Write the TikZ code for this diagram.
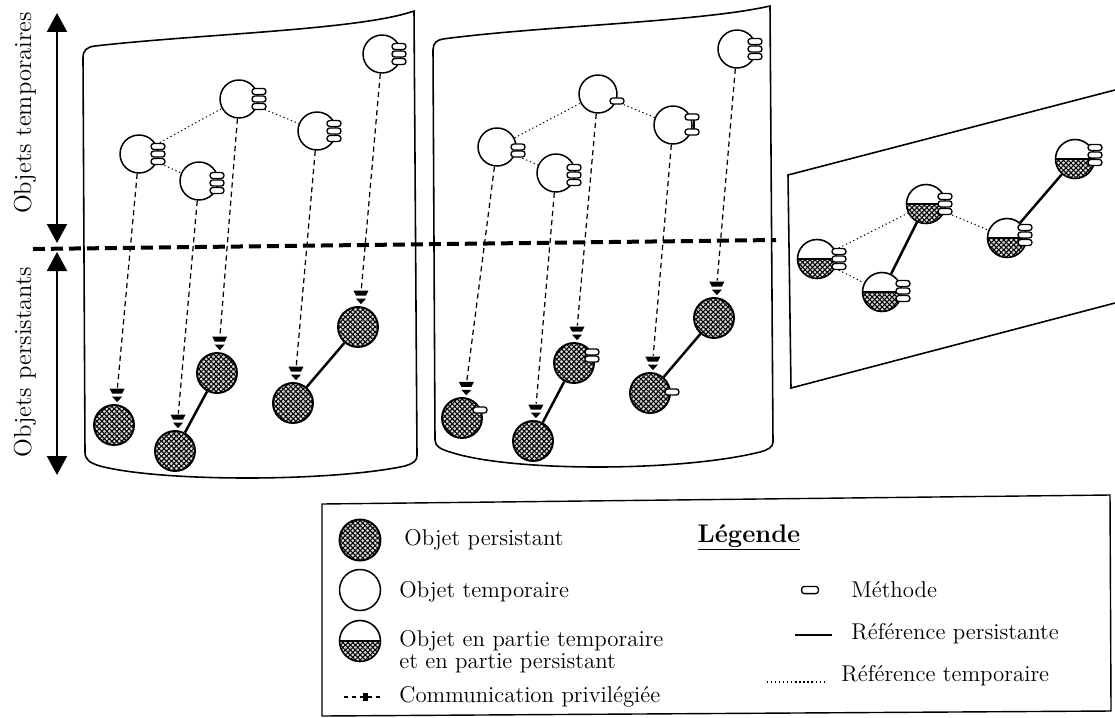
\documentclass[tikz,border=0pt]{standalone}
\usepackage{fontspec}
\usetikzlibrary{arrows.meta,patterns.meta,calc}

\tikzset{
  txt/.style={font=\fontsize{13}{15}\selectfont, inner sep=0pt},
  sidelabel/.style={font=\fontsize{14}{16}\selectfont, rotate=90, inner sep=0pt},
  tobj/.style={circle, draw, line width=0.85pt, minimum size=0.76cm, inner sep=0pt, fill=white},
  pobj/.style={circle, draw, line width=1.1pt, minimum size=0.8cm, inner sep=0pt, fill=white,
    path picture={
      \fill[gray!30] (path picture bounding box.south west) rectangle (path picture bounding box.north east);
      \fill[pattern={Lines[angle=45,distance=2pt,line width=0.6pt]}] (path picture bounding box.south west) rectangle (path picture bounding box.north east);
      \fill[pattern={Lines[angle=-45,distance=2pt,line width=0.6pt]}] (path picture bounding box.south west) rectangle (path picture bounding box.north east);
    }},
  hobj/.style={circle, draw, line width=0.9pt, minimum size=0.78cm, inner sep=0pt, fill=white,
    path picture={
      \fill[gray!30] (path picture bounding box.west) rectangle (path picture bounding box.south east);
      \fill[pattern={Lines[angle=45,distance=2pt,line width=0.6pt]}] (path picture bounding box.west) rectangle (path picture bounding box.south east);
      \fill[pattern={Lines[angle=-45,distance=2pt,line width=0.6pt]}] (path picture bounding box.west) rectangle (path picture bounding box.south east);
      \draw[line width=0.7pt] (path picture bounding box.west) -- (path picture bounding box.east);
    }},
  panel/.style={line width=0.9pt},
  tref/.style={line width=0.6pt, dash pattern=on 0.7pt off 1.6pt},
  pref/.style={line width=1.4pt},
  comm/.style={line width=0.7pt, dash pattern=on 3pt off 2.2pt, shorten >=0.33cm},
  separator/.style={line width=0.08cm, dash pattern=on 0.24cm off 0.12cm},
  vdim/.style={line width=1.2pt, {Triangle[width=0.4cm,length=0.38cm]}-{Triangle[width=0.4cm,length=0.38cm]}},
  capsule/.style={line width=0.75pt, fill=white, rounded corners=1.6pt},
  meth/.pic={\draw[capsule] (-7,-3) rectangle (7,3);},
  methiii/.pic={
    \draw[capsule] (-7,-10.5) rectangle (7,-4.5);
    \draw[capsule] (-7,-3) rectangle (7,3);
    \draw[capsule] (-7,4.5) rectangle (7,10.5);},
  privtip/.pic={
    \fill (-7.5,-2.5) -- (7.5,-2.5) -- (5,2.5) -- (-5,2.5) -- cycle;
    \fill (-5,5.5) -- (5,5.5) -- (0,11) -- cycle;}
}

\begin{document}
\begin{tikzpicture}[x=0.02cm, y=-0.02cm]
\fill[white] (0,0) rectangle (1115,717);
\useasboundingbox (0,0) rectangle (1115,717);

% --- the two memory volumes and the shared plane ---
\draw[panel] (95,46) .. controls (200,34) and (360,30) .. (414,11)
  -- (417,455) .. controls (417,461) and (414,463) .. (405,466)
  .. controls (330,482) and (160,482) .. (100,466)
  .. controls (90,463) and (85,460) .. (85,452)
  -- (83,58) .. controls (83,50) and (87,47) .. (95,46);
\draw[panel] (443,39) .. controls (540,26) and (700,22) .. (770,6)
  -- (773,442) .. controls (773,447) and (768,450) .. (760,452)
  .. controls (680,472) and (510,472) .. (450,452)
  .. controls (440,449) and (435,446) .. (435,440)
  -- (433,50) .. controls (433,43) and (437,40) .. (443,39);
\draw[panel] (1115,90) -- (788,175) -- (791,388) -- (1115,303);

% --- side arrows and labels ---
\coordinate (a1t) at (57,13);
\coordinate (a1b) at (57,243);
\coordinate (a2t) at (57,252);
\coordinate (a2b) at (57,475);
\draw[vdim] (a1t) -- (a1b);
\draw[vdim] (a2t) -- (a2b);
\node[sidelabel] (labT) at (25,113) {Objets temporaires};
\node[sidelabel] (labP) at (25,362) {Objets persistants};

% --- first volume ---
\node[tobj] (T1a) at (139,154) {};
\node[tobj] (T1b) at (199,181) {};
\node[tobj] (T1c) at (239,99) {};
\node[tobj] (T1d) at (317,131) {};
\node[tobj] (T1e) at (382,54) {};
\node[pobj] (P1a) at (114,425) {};
\node[pobj] (P1b) at (175,451) {};
\node[pobj] (P1c) at (217,373) {};
\node[pobj] (P1d) at (293,403) {};
\node[pobj] (P1e) at (358,327) {};

\draw[tref] (T1a) -- (T1c);
\draw[tref] (T1c) -- (T1d);
\draw[tref] (T1a) -- (T1b);
\draw[pref] (P1b) -- (P1c);
\draw[pref] (P1d) -- (P1e);

\foreach \t/\p in {T1a/P1a, T1b/P1b, T1c/P1c, T1d/P1d, T1e/P1e} {
  \draw[comm] (\t) -- (\p);
  \pic at ($(\p)!0.68cm!(\t)$) {privtip};
}

\pic at ($(T1a)+(19,0)$) {methiii};
\pic at ($(T1b)+(18,2)$) {methiii};
\pic at ($(T1c)+(20,0)$) {methiii};
\pic at ($(T1d)+(17,0)$) {methiii};
\pic at ($(T1e)+(17,0)$) {methiii};

% --- second volume ---
\node[tobj] (T2a) at (497,147) {};
\node[tobj] (T2b) at (556,173) {};
\node[tobj] (T2c) at (598,94) {};
\node[tobj] (T2d) at (673,125) {};
\node[tobj] (T2e) at (737,49) {};
\node[pobj] (P2a) at (462,418) {};
\node[pobj] (P2b) at (533,441) {};
\node[pobj] (P2c) at (574,363) {};
\node[pobj] (P2d) at (650,393) {};
\node[pobj] (P2e) at (714,318) {};

\draw[tref] (T2a) -- (T2c);
\draw[tref] (T2c) -- (T2d);
\draw[tref] (T2a) -- (T2b);
\draw[pref] (P2b) -- (P2c);
\draw[pref] (P2d) -- (P2e);

\foreach \t/\p in {T2a/P2a, T2b/P2b, T2c/P2c, T2d/P2d, T2e/P2e} {
  \draw[comm] (\t) -- (\p);
  \pic at ($(\p)!0.68cm!(\t)$) {privtip};
}

\pic at ($(T2a)+(21,0)$) {meth};
\pic at ($(T2a)+(21,7)$) {meth};
\pic at ($(T2b)+(18,2)$) {methiii};
\pic at ($(T2c)+(19,7)$) {meth};
\draw[line width=0.6pt] ($(T2d)+(21,-8)$) -- ($(T2d)+(21,7)$);
\pic at ($(T2d)+(19,-8)$) {meth};
\pic at ($(T2d)+(19,7)$) {meth};
\pic at ($(T2e)+(18,0)$) {methiii};
\pic at ($(P2a)+(18,-8)$) {meth};
\pic at ($(P2c)+(18,-11)$) {meth};
\pic at ($(P2c)+(18,-4)$) {meth};
\pic at ($(P2d)+(22,-1)$) {meth};

% --- shared plane ---
\node[hobj] (H1) at (817,259) {};
\node[hobj] (H2) at (882,292) {};
\node[hobj] (H3) at (926,204) {};
\node[hobj] (H4) at (1007,238) {};
\node[hobj] (H5) at (1075,159) {};
\draw[tref] (H1) -- (H3);
\draw[tref] (H1) -- (H2);
\draw[tref] (H3) -- (H4);
\draw[pref] (H2) -- (H3);
\draw[pref] (H4) -- (H5);
\pic at ($(H1)+(22,0)$) {methiii};
\pic at ($(H2)+(21,-1)$) {methiii};
\pic at ($(H3)+(19,0)$) {methiii};
\pic at ($(H4)+(18,-3)$) {methiii};
\pic at ($(H5)+(20,-4)$) {methiii};

% --- boundary between temporary and persistent space ---
\draw[separator] (33,249) -- (776,240);

% --- legend ---
\draw[line width=0.8pt] (322,504) -- (1110,495) -- (1111,711) -- (322,716) -- cycle;
\node[pobj, minimum size=0.82cm] (Lp) at (360,540) {};
\node[tobj, minimum size=0.82cm] (Lt) at (360,590) {};
\node[hobj, minimum size=0.82cm] (Lh) at (360,641) {};
\node[txt, anchor=base west] (Lpt) at (404,545) {Objet persistant};
\node[txt, anchor=base west] (Ltt) at (399,597) {Objet temporaire};
\node[txt, anchor=base west] (Lht) at (399,646) {Objet en partie temporaire};
\node[txt, anchor=base west] (Lht2) at (399,668) {et en partie persistant};
\node[txt, anchor=base west] (Lct) at (399,702) {Communication privilégiée};
\coordinate (Lc1) at (344,697);
\coordinate (Lc2) at (381,697);
\draw[line width=0.7pt, dash pattern=on 2.5pt off 2pt] (Lc1) -- (Lc2);
\fill (363,693) rectangle (368,701);
\node[font=\fontsize{14.5}{17}\selectfont\bfseries, inner sep=0pt, anchor=base] (Lg) at (749,542) {\underline{Légende}};
\pic[scale=1.2] at (810,590) {meth};
\node[txt, anchor=base west] (Lmt) at (851,597) {Méthode};
\coordinate (Ls1) at (795,635);
\coordinate (Ls2) at (832,635);
\draw[pref] (Ls1) -- (Ls2);
\node[txt, anchor=base west] (Lst) at (851,639) {Référence persistante};
\coordinate (Ld1) at (767,682);
\coordinate (Ld2) at (827,682);
\draw[tref] (Ld1) -- (Ld2);
\node[txt, anchor=base west] (Ldt) at (841,681) {Référence temporaire};
\end{tikzpicture}
\end{document}
